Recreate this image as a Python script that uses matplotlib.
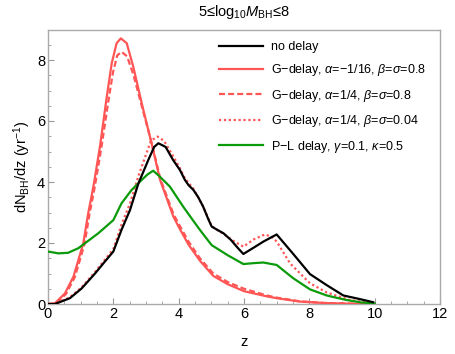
import matplotlib
matplotlib.use("Agg")
import matplotlib.pyplot as plt
from matplotlib.ticker import MultipleLocator

plt.rcParams['font.family'] = ['Liberation Sans', 'DejaVu Sans']
plt.rcParams['mathtext.fontset'] = 'custom'
plt.rcParams['mathtext.rm'] = 'Liberation Sans'
plt.rcParams['mathtext.it'] = 'Liberation Sans:italic'

# no delay
z_nd = [0.0, 0.21, 0.67, 1.03, 1.44, 1.74, 2.0, 2.25, 2.51, 2.77, 3.07, 3.25, 3.38, 3.6, 3.83, 4.04, 4.19, 4.3, 4.45, 4.6, 4.75, 4.9, 5.01, 5.2, 5.37, 5.6, 5.8, 5.98, 6.3, 6.6, 7.0, 7.5, 8.02, 8.53, 9.04, 9.55, 9.95]
v_nd = [0.0, 0.0, 0.19, 0.51, 1.0, 1.39, 1.72, 2.43, 3.08, 3.96, 4.72, 5.15, 5.27, 5.15, 4.72, 4.39, 4.07, 3.9, 3.74, 3.5, 3.19, 2.8, 2.54, 2.42, 2.32, 2.1, 1.85, 1.64, 1.85, 2.05, 2.28, 1.65, 0.98, 0.62, 0.28, 0.16, 0.06]

# G-delay alpha=-1/16, beta=sigma=0.8
z_g1 = [0.0, 0.21, 0.52, 0.78, 0.93, 1.08, 1.23, 1.39, 1.59, 1.8, 1.95, 2.1, 2.23, 2.41, 2.61, 2.87, 3.17, 3.43, 3.84, 4.04, 4.3, 4.65, 5.06, 5.5, 6.0, 6.7, 7.0, 7.7, 8.5, 9.5, 10.0]
v_g1 = [0.0, 0.02, 0.35, 0.9, 1.44, 1.99, 2.97, 3.85, 5.16, 6.8, 7.89, 8.55, 8.71, 8.55, 7.78, 6.58, 5.27, 4.07, 2.86, 2.45, 1.95, 1.42, 0.92, 0.65, 0.42, 0.25, 0.19, 0.08, 0.03, 0.005, 0.0]

# G-delay alpha=1/4, beta=sigma=0.8
z_g2 = [0.0, 0.25, 0.55, 0.82, 0.97, 1.12, 1.27, 1.43, 1.63, 1.84, 1.99, 2.12, 2.25, 2.42, 2.62, 2.88, 3.18, 3.44, 3.84, 4.04, 4.3, 4.65, 5.06, 5.5, 6.0, 6.7, 7.0, 7.7, 8.5, 9.5, 10.0]
v_g2 = [0.0, 0.02, 0.33, 0.88, 1.42, 1.97, 2.95, 3.83, 5.1, 6.6, 7.6, 8.15, 8.27, 8.12, 7.5, 6.45, 5.25, 4.1, 2.95, 2.55, 2.05, 1.5, 1.0, 0.72, 0.5, 0.28, 0.21, 0.09, 0.03, 0.005, 0.0]

# G-delay alpha=1/4, beta=sigma=0.04
z_g3 = [0.0, 0.21, 0.67, 1.03, 1.44, 1.74, 2.0, 2.25, 2.51, 2.77, 3.0, 3.15, 3.35, 3.55, 3.83, 4.04, 4.19, 4.45, 4.75, 5.01, 5.37, 5.7, 5.98, 6.3, 6.64, 6.85, 7.0, 7.41, 8.02, 8.53, 9.24, 9.95]
v_g3 = [0.0, 0.0, 0.22, 0.55, 1.05, 1.45, 1.8, 2.6, 3.3, 4.2, 4.9, 5.35, 5.49, 5.35, 4.85, 4.45, 4.12, 3.78, 3.2, 2.55, 2.3, 2.05, 1.88, 2.12, 2.28, 2.2, 2.05, 1.33, 0.68, 0.38, 0.13, 0.02]

# P-L delay gamma=0.1, kappa=0.5
z_pl = [0.0, 0.32, 0.62, 0.93, 1.13, 1.54, 2.0, 2.25, 2.56, 2.87, 3.05, 3.22, 3.4, 3.73, 4.04, 4.14, 4.4, 4.65, 5.01, 5.5, 5.98, 6.3, 6.59, 7.0, 7.5, 8.02, 8.53, 9.14, 9.6, 10.0]
v_pl = [1.72, 1.66, 1.68, 1.83, 1.99, 2.32, 2.75, 3.3, 3.74, 4.07, 4.25, 4.37, 4.2, 3.85, 3.35, 3.19, 2.8, 2.43, 1.93, 1.6, 1.31, 1.34, 1.36, 1.28, 0.85, 0.48, 0.28, 0.13, 0.05, 0.02]

red = '#ff5555'
fig = plt.figure(figsize=(4.55, 3.54), dpi=100)
ax = fig.add_axes([48/455, 50/354, 392/455, 274.5/354])

ax.plot(z_nd, v_nd, color='black', lw=1.6, label='no delay', zorder=4)
ax.plot(z_g1, v_g1, color=red, lw=1.6, label=r'G$-$delay, $\alpha$=$-$1/16, $\beta$=$\sigma$=0.8', zorder=3)
ax.plot(z_g2, v_g2, color=red, lw=1.6, ls=(0, (2.7, 1.4)), label=r'G$-$delay, $\alpha$=1/4, $\beta$=$\sigma$=0.8', zorder=3)
ax.plot(z_g3, v_g3, color=red, lw=1.6, ls=(0, (1.0, 1.2)), label=r'G$-$delay, $\alpha$=1/4, $\beta$=$\sigma$=0.04', zorder=3)
ax.plot(z_pl, v_pl, color='#0a9a0a', lw=1.6, label=r'P$-$L delay, $\gamma$=0.1, $\kappa$=0.5', zorder=3)

ax.set_xlim(0, 12)
ax.set_ylim(0, 9)
ax.xaxis.set_major_locator(MultipleLocator(2))
ax.xaxis.set_minor_locator(MultipleLocator(0.5))
ax.yaxis.set_major_locator(MultipleLocator(2))
ax.yaxis.set_minor_locator(MultipleLocator(0.5))
ax.tick_params(which='both', direction='in', color='#999999', labelsize=10.5, pad=2)
ax.tick_params(which='major', length=4, width=0.8)
ax.tick_params(which='minor', length=2.5, width=0.6)
for s in ax.spines.values():
    s.set_color('#aaaaaa')
    s.set_linewidth(1.0)

ax.set_xlabel('z', fontsize=10.5, labelpad=10)
ax.set_ylabel(r'dN$_{\rm BH}$/dz (yr$^{-1}$)', fontsize=10.5, labelpad=3)
ax.set_title(r'5≤log$_{10}$$M_{\rm BH}$≤8', fontsize=10.5, pad=10)

ax.legend(loc='upper left', bbox_to_anchor=(0.437, 0.958), frameon=False,
          fontsize=9, handlelength=3.5, handletextpad=0.65, labelspacing=0.75,
          borderpad=0, borderaxespad=0)

fig.savefig('out.png', dpi=100)
